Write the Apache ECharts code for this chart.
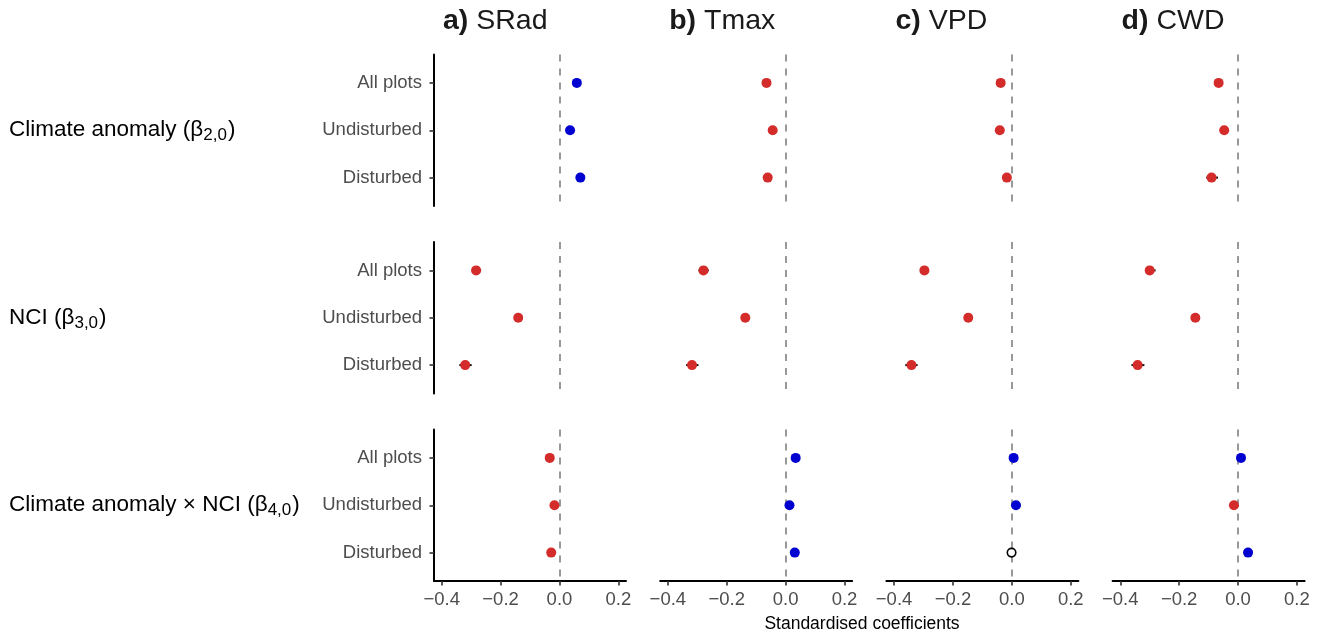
<!DOCTYPE html>
<html><head><meta charset="utf-8">
<script src="https://cdn.jsdelivr.net/npm/echarts@6/dist/echarts.min.js"></script>
<style>html,body{margin:0;padding:0;background:#fff}#c{width:1324px;height:637px}</style>
</head><body><div id="c"></div>
<script>
// ---- data ----
const groups = ['All plots', 'Undisturbed', 'Disturbed'];
const variables = ['SRad', 'Tmax', 'VPD', 'CWD'];
const panelLetters = ['a)', 'b)', 'c)', 'd)'];
const termNames = ['Climate anomaly', 'NCI', 'Climate anomaly \u00d7 NCI'];
const termSubs = ['2,0', '3,0', '4,0'];
const xTicks = [-0.4, -0.2, 0, 0.2];
const xTitle = 'Standardised coefficients';

// estimates: rows = term (3) x group (3), row-major
const sradEst = [0.059, 0.036, 0.071, -0.283, -0.140, -0.320, -0.033, -0.017, -0.028];
const sradLo  = [0.052, 0.029, 0.064, -0.298, -0.148, -0.340, -0.040, -0.024, -0.035];
const sradHi  = [0.066, 0.043, 0.078, -0.266, -0.132, -0.298, -0.026, -0.010, -0.021];

const tmaxEst = [-0.065, -0.044, -0.061, -0.279, -0.137, -0.318, 0.034, 0.013, 0.031];
const tmaxLo  = [-0.072, -0.051, -0.068, -0.296, -0.145, -0.338, 0.027, 0.006, 0.024];
const tmaxHi  = [-0.058, -0.037, -0.054, -0.261, -0.129, -0.296, 0.041, 0.020, 0.038];

const vpdEst = [-0.038, -0.041, -0.017, -0.297, -0.148, -0.341, 0.006, 0.014, -0.001];
const vpdLo  = [-0.045, -0.048, -0.024, -0.312, -0.156, -0.362, 0.002, 0.007, -0.007];
const vpdHi  = [-0.031, -0.034, -0.010, -0.282, -0.140, -0.320, 0.010, 0.021, 0.005];

const cwdEst = [-0.066, -0.047, -0.090, -0.300, -0.145, -0.341, 0.010, -0.014, 0.034];
const cwdLo  = [-0.073, -0.058, -0.108, -0.315, -0.153, -0.362, 0.004, -0.021, 0.027];
const cwdHi  = [-0.059, -0.036, -0.068, -0.280, -0.137, -0.318, 0.016, -0.008, 0.041];

const estAll = [sradEst, tmaxEst, vpdEst, cwdEst];
const loAll = [sradLo, tmaxLo, vpdLo, cwdLo];
const hiAll = [sradHi, tmaxHi, vpdHi, cwdHi];

// ---- styling / layout ----
const FONT = '"Liberation Sans", Arial, Helvetica, sans-serif';
const RED = '#D42B2B', BLUE = '#0000D0';
const colLeft0 = 434, colStep = 226.2, colW = 192;
const rowTop = [54.5, 242, 429.5], rowH = 151.5;
const fmt = v => (v < 0 ? '\u2212' : '') + Math.abs(v).toFixed(1);

const grids = [], xAxes = [], yAxes = [], series = [], graphics = [];
let k = 0;
for (let r = 0; r < 3; r++) {
  for (let c = 0; c < 4; c++) {
    const left = colLeft0 + c * colStep;
    grids.push({left: left, top: rowTop[r], width: colW, height: rowH, containLabel: false});
    const bottomRow = r === 2, firstCol = c === 0;
    xAxes.push({
      type: 'value', gridIndex: k, min: -0.426, max: 0.226,
      splitLine: {show: false},
      axisLine: {show: bottomRow, onZero: false, lineStyle: {color: '#000', width: 2}},
      axisTick: {show: bottomRow, length: 4.5, customValues: xTicks, lineStyle: {color: '#333', width: 1.6}},
      axisLabel: {show: bottomRow, customValues: xTicks, formatter: fmt, color: '#4D4D4D',
                  fontSize: 18.5, fontFamily: FONT, margin: 9}
    });
    yAxes.push({
      type: 'value', gridIndex: k, min: -0.6, max: 2.6, inverse: true,
      splitLine: {show: false},
      axisLine: {show: firstCol, onZero: false, lineStyle: {color: '#000', width: 2}},
      axisTick: {show: firstCol, length: 4.5, customValues: [0, 1, 2], lineStyle: {color: '#333', width: 1.6}},
      axisLabel: {show: firstCol, customValues: [0, 1, 2], formatter: v => groups[Math.round(v)],
                  color: '#4D4D4D', fontSize: 18.5, fontFamily: FONT, margin: 12}
    });
    const est = estAll[c], lo = loAll[c], hi = hiAll[c];
    const barData = [], ptData = [];
    for (let g = 0; g < 3; g++) {
      const i = r * 3 + g;
      barData.push([lo[i], hi[i], g]);
      let style;
      if (lo[i] > 0) style = {color: BLUE, borderWidth: 0, opacity: 1};
      else if (hi[i] < 0) style = {color: RED, borderWidth: 0, opacity: 1};
      else style = {color: '#fff', borderColor: '#000', borderWidth: 1.6, opacity: 1};
      ptData.push({value: [est[i], g], itemStyle: style, symbolSize: style.color === '#fff' ? 8.5 : 10});
    }
    series.push({
      type: 'custom', xAxisIndex: k, yAxisIndex: k, z: 3, silent: true,
      data: barData,
      renderItem: (params, api) => {
        const p1 = api.coord([api.value(0), api.value(2)]);
        const p2 = api.coord([api.value(1), api.value(2)]);
        return {type: 'line', shape: {x1: p1[0], y1: p1[1], x2: p2[0], y2: p2[1]},
                style: {stroke: '#111', lineWidth: 2}};
      }
    });
    series.push({
      type: 'scatter', xAxisIndex: k, yAxisIndex: k, z: 4, silent: true,
      itemStyle: {opacity: 1},
      data: ptData,
      markLine: {
        silent: true, symbol: 'none', z: 2, animation: false,
        label: {show: false},
        lineStyle: {color: '#808080', type: [7, 7], width: 1.6, opacity: 1},
        data: [{xAxis: 0}]
      }
    });
    k++;
  }
}

// column titles
for (let c = 0; c < 4; c++) {
  graphics.push({
    type: 'text', x: colLeft0 + c * colStep + 9, y: 21,
    style: {
      text: '{b|' + panelLetters[c] + '}{n| ' + variables[c] + '}',
      verticalAlign: 'middle', align: 'left',
      rich: {
        b: {fontSize: 28.5, fontWeight: 'bold', fontFamily: FONT, fill: '#1a1a1a'},
        n: {fontSize: 28.5, fontFamily: FONT, fill: '#1a1a1a'}
      }
    }
  });
}
// row labels
for (let r = 0; r < 3; r++) {
  graphics.push({
    type: 'text', x: 9, y: rowTop[r] + rowH / 2,
    style: {
      text: '{n|' + termNames[r] + ' (\u03b2}{s|' + termSubs[r] + '}{n|)}',
      verticalAlign: 'middle', align: 'left',
      rich: {
        n: {fontSize: 22.5, fontFamily: FONT, fill: '#000', lineHeight: 28},
        s: {fontSize: 17, fontFamily: FONT, fill: '#000', lineHeight: 15, verticalAlign: 'bottom', padding: [0, 1, 0, 0]}
      }
    }
  });
}
// x title
graphics.push({
  type: 'text', x: 862, y: 624,
  style: {text: xTitle, align: 'center', verticalAlign: 'middle', fontSize: 17.5, fontFamily: FONT, fill: '#000'}
});

const chart = echarts.init(document.getElementById('c'), null, {renderer: 'canvas'});
chart.setOption({
  animation: false,
  backgroundColor: '#fff',
  grid: grids, xAxis: xAxes, yAxis: yAxes, series: series,
  graphic: graphics
});
</script></body></html>
